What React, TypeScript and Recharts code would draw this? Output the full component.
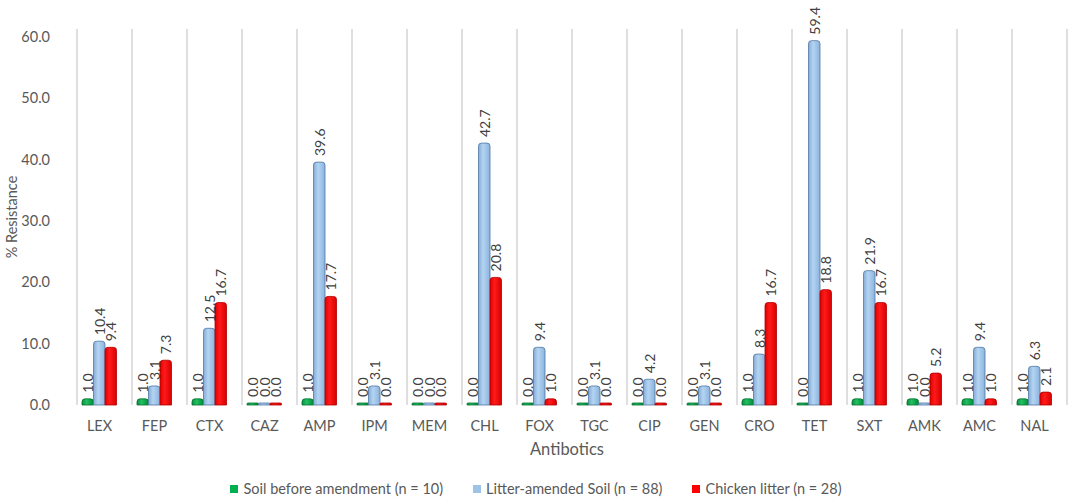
import { BarChart, Bar, XAxis, YAxis, CartesianGrid, LabelList } from 'recharts';

const ANTIBIOTICS = ['LEX', 'FEP', 'CTX', 'CAZ', 'AMP', 'IPM', 'MEM', 'CHL', 'FOX', 'TGC', 'CIP', 'GEN', 'CRO', 'TET', 'SXT', 'AMK', 'AMC', 'NAL'];
const SOIL_BEFORE = [1.0, 1.0, 1.0, 0.0, 1.0, 0.0, 0.0, 0.0, 0.0, 0.0, 0.0, 0.0, 1.0, 0.0, 1.0, 1.0, 1.0, 1.0];
const LITTER_SOIL = [10.4, 3.1, 12.5, 0.0, 39.6, 3.1, 0.0, 42.7, 9.4, 3.1, 4.2, 3.1, 8.3, 59.4, 21.9, 0.0, 9.4, 6.3];
const CHICKEN_LITTER = [9.4, 7.3, 16.7, 0.0, 17.7, 0.0, 0.0, 20.8, 1.0, 0.0, 0.0, 0.0, 16.7, 18.8, 16.7, 5.2, 1.0, 2.1];
const Y_TICKS = [0, 10, 20, 30, 40, 50, 60];

const data = ANTIBIOTICS.map((name, i) => ({
    name,
    soil: SOIL_BEFORE[i],
    litterSoil: LITTER_SOIL[i],
    chicken: CHICKEN_LITTER[i],
}));

const SERIES = [
    { key: 'soil', label: 'Soil before amendment (n = 10)', color: '#00b050', stroke: '#05702f', grad: 'gGreen' },
    { key: 'litterSoil', label: 'Litter-amended Soil (n = 88)', color: '#9dc3e6', stroke: '#4f77a3', grad: 'gBlue' },
    { key: 'chicken', label: 'Chicken litter (n = 28)', color: '#ff0000', stroke: '#b00000', grad: 'gRed' },
];

const FONT = 'Lato, "Open Sans", sans-serif';

function ValueLabel(props: any) {
    const { x, y, width, value } = props;
    const cx = x + width / 2;
    const ty = y - 6;
    return (
        <text
            x={cx}
            y={ty}
            transform={`rotate(-90 ${cx} ${ty})`}
            textAnchor="start"
            dominantBaseline="central"
            fontSize={14}
            fontFamily={FONT}
            fill="#404040"
        >
            {Number(value).toFixed(1)}
        </text>
    );
}

export default function App() {
    return (
        <div style={{ position: 'absolute', left: 0, top: 0, width: 1072, height: 501, background: '#fff', fontFamily: FONT }}>
            <BarChart
                width={1072}
                height={501}
                data={data}
                margin={{ top: 29, right: 10, left: 0, bottom: 44 }}
                barGap={0}
                barCategoryGap={10}
            >
                <defs>
                    <linearGradient id="gGreen" x1="0" y1="0" x2="1" y2="0">
                        <stop offset="0%" stopColor="#0a8f3e" />
                        <stop offset="40%" stopColor="#22c063" />
                        <stop offset="100%" stopColor="#008a36" />
                    </linearGradient>
                    <linearGradient id="gBlue" x1="0" y1="0" x2="1" y2="0">
                        <stop offset="0%" stopColor="#86acd6" />
                        <stop offset="40%" stopColor="#b4d4f2" />
                        <stop offset="100%" stopColor="#8bb3de" />
                    </linearGradient>
                    <linearGradient id="gRed" x1="0" y1="0" x2="1" y2="0">
                        <stop offset="0%" stopColor="#e00000" />
                        <stop offset="40%" stopColor="#ff1a1a" />
                        <stop offset="100%" stopColor="#d80000" />
                    </linearGradient>
                </defs>
                <CartesianGrid
                    horizontal={false}
                    stroke="#d4d4d4"
                    strokeWidth={1.5}
                    verticalCoordinatesGenerator={({ offset }: any) =>
                        Array.from({ length: ANTIBIOTICS.length + 1 }, (_, i) => offset.left + 5 + (i * offset.width) / ANTIBIOTICS.length)
                    }
                />
                <XAxis
                    dataKey="name"
                    axisLine={false}
                    tickLine={false}
                    tickMargin={10}
                    height={52}
                    interval={0}
                    tick={{ fontSize: 14.5, fill: '#595959', fontFamily: FONT }}
                    label={{ value: 'Antibotics', position: 'insideBottom', offset: 2, fontSize: 16.5, fill: '#595959', fontFamily: FONT }}
                />
                <YAxis
                    domain={[0, 61.3]}
                    ticks={Y_TICKS}
                    axisLine={false}
                    tickLine={false}
                    width={72}
                    tickMargin={16}
                    tickFormatter={(v: number) => v.toFixed(1)}
                    tick={{ fontSize: 14.5, fill: '#595959', fontFamily: FONT }}
                    label={{
                        value: '% Resistance',
                        angle: -90,
                        position: 'insideLeft',
                        offset: 12,
                        fontSize: 14.5,
                        fill: '#595959',
                        fontFamily: FONT,
                        style: { textAnchor: 'middle' },
                    }}
                />
                {SERIES.map((s) => (
                    <Bar
                        key={s.key}
                        dataKey={s.key}
                        fill={`url(#${s.grad})`}
                        stroke={s.stroke}
                        strokeWidth={0.8}
                        barSize={11.5}
                        minPointSize={2}
                        radius={[3, 3, 0, 0]}
                        isAnimationActive={false}
                    >
                        <LabelList dataKey={s.key} content={ValueLabel} />
                    </Bar>
                ))}
            </BarChart>
            <div
                style={{
                    position: 'absolute',
                    left: 0,
                    top: 480,
                    width: 1072,
                    display: 'flex',
                    justifyContent: 'center',
                    gap: 30,
                    fontSize: 14.5,
                    color: '#595959',
                }}
            >
                {SERIES.map((s) => (
                    <div key={s.key} style={{ display: 'flex', alignItems: 'center', gap: 5 }}>
                        <span style={{ width: 8, height: 8, background: s.color, display: 'inline-block' }} />
                        <span>{s.label}</span>
                    </div>
                ))}
            </div>
        </div>
    );
}
